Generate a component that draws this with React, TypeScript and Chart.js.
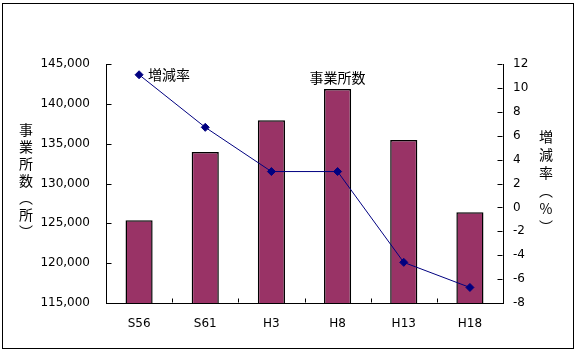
import React, { useEffect, useRef } from "react";
import { Chart, registerables } from "chart.js";

Chart.register(...registerables);

const categories = ["S56", "S61", "H3", "H8", "H13", "H18"];
const establishments = [125400, 133950, 137950, 141850, 135450, 126400];
const changeRate = [11.1, 6.7, 3.0, 3.0, -4.6, -6.7];
const leftTitle = ["事", "業", "所", "数", "︵", "所", "︶"];
const rightTitle = ["増", "減", "率", "︵", "%", "︶"];
const barLabel = "事業所数";
const lineLabel = "増減率";

const CJK_FONT = "14px 'Noto Sans CJK JP', sans-serif";

const decorPlugin = {
  id: "decor",
  afterDraw(chart: any) {
    const ctx = chart.ctx;
    const area = chart.chartArea;
    ctx.save();
    ctx.strokeStyle = "#000000";
    ctx.lineWidth = 1;
    ctx.setLineDash([]);
    // outer frame
    ctx.strokeRect(2.5, 3.5, chart.width - 5, chart.height - 6);

    // inward tick marks
    const ys = chart.scales.y;
    const y1s = chart.scales.y1;
    const xs = chart.scales.x;
    const left = Math.round(area.left) + 0.5;
    const right = Math.round(area.right) - 0.5;
    const bottom = Math.round(area.bottom) - 0.5;
    ctx.beginPath();
    for (let i = 0; i < ys.ticks.length; i++) {
      const py = Math.round(ys.getPixelForValue(ys.ticks[i].value)) + 0.5;
      ctx.moveTo(left, py);
      ctx.lineTo(left + 5, py);
    }
    for (let i = 0; i < y1s.ticks.length; i++) {
      const py = Math.round(y1s.getPixelForValue(y1s.ticks[i].value)) + 0.5;
      ctx.moveTo(right, py);
      ctx.lineTo(right - 5, py);
    }
    for (let i = 1; i < categories.length; i++) {
      const px = Math.round((xs.getPixelForValue(i - 1) + xs.getPixelForValue(i)) / 2) + 0.5;
      ctx.moveTo(px, bottom);
      ctx.lineTo(px, bottom - 4);
    }
    ctx.stroke();

    // axis titles (vertical)
    ctx.fillStyle = "#000";
    ctx.font = CJK_FONT;
    ctx.textAlign = "center";
    ctx.textBaseline = "middle";
    leftTitle.forEach((c, i) => ctx.fillText(c, 26, 130 + i * 17));
    rightTitle.forEach((c, i) => ctx.fillText(c, 546, 137 + i * 18));

    // series name labels
    const lineMeta = chart.getDatasetMeta(1);
    const p0 = lineMeta.data[0];
    ctx.textAlign = "left";
    ctx.fillText(lineLabel, p0.x + 9, p0.y);
    const barMeta = chart.getDatasetMeta(0);
    let maxIdx = 0;
    establishments.forEach((v, i) => {
      if (v > establishments[maxIdx]) maxIdx = i;
    });
    const b = barMeta.data[maxIdx];
    ctx.textAlign = "center";
    ctx.textBaseline = "bottom";
    ctx.fillText(barLabel, b.x, b.y - 4);
    ctx.restore();
  },
};

export default function App() {
  const ref = useRef<HTMLCanvasElement>(null);
  useEffect(() => {
    const chart = new Chart(ref.current as HTMLCanvasElement, {
      type: "bar",
      data: {
        labels: categories,
        datasets: [
          {
            type: "bar",
            label: barLabel,
            data: establishments,
            backgroundColor: "#993366",
            borderColor: "#000",
            borderWidth: 1.5,
            barPercentage: 0.41,
            categoryPercentage: 1,
            yAxisID: "y",
            order: 2,
          },
          {
            type: "line",
            label: lineLabel,
            data: changeRate,
            borderColor: "#000080",
            backgroundColor: "#000080",
            borderWidth: 1,
            pointStyle: "rectRot",
            pointRadius: 4,
            pointBorderWidth: 1,
            yAxisID: "y1",
            order: 1,
          },
        ] as any,
      },
      options: {
        animation: false,
        responsive: false,
        layout: { padding: { top: 64, left: 0, right: 0, bottom: 0 } },
        plugins: { legend: { display: false }, tooltip: { enabled: false } },
        scales: {
          x: {
            grid: { display: false, drawTicks: false },
            border: { color: "#000", width: 1 },
            ticks: { color: "#000", font: { family: "'DejaVu Sans', sans-serif", size: 12 }, padding: 14 },
            afterFit: (s: any) => {
              s.height = 48;
            },
          },
          y: {
            position: "left",
            min: 115000,
            max: 145000,
            grid: { display: false, drawTicks: false },
            border: { color: "#000", width: 1 },
            ticks: {
              stepSize: 5000,
              color: "#000",
              font: { family: "'DejaVu Sans', sans-serif", size: 12 },
              padding: 16,
              callback: (v: any) => Number(v).toLocaleString("en-US"),
            },
            afterFit: (s: any) => {
              s.width = 106;
            },
          },
          y1: {
            position: "right",
            min: -8,
            max: 12,
            grid: { display: false, drawTicks: false },
            border: { color: "#000", width: 1 },
            ticks: {
              stepSize: 2,
              color: "#000",
              font: { family: "'DejaVu Sans', sans-serif", size: 12 },
              padding: 10,
            },
            afterFit: (s: any) => {
              s.width = 73;
            },
          },
        },
      } as any,
      plugins: [decorPlugin],
    });
    return () => chart.destroy();
  }, []);
  return (
    <div style={{ position: "absolute", left: 0, top: 0, width: 576, height: 351, background: "#fff" }}>
      <canvas ref={ref} width={576} height={351} style={{ width: 576, height: 351 }} />
    </div>
  );
}
